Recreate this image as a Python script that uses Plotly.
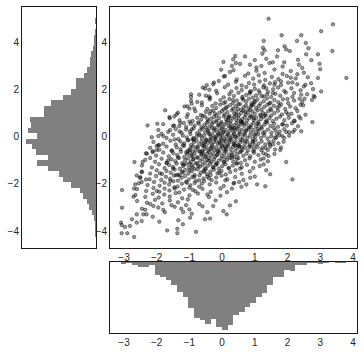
import plotly.graph_objects as go

# ---------------- data ----------------
scatter_points = [
    # core rows (estimated from the dense cloud)
    (0.55,3.08),(1.05,2.93),(1.45,3.12),(1.85,2.97),(2.35,3.05),
    (0.35,2.82),(0.8,2.68),(1.05,2.79),(1.3,2.7),(1.6,2.85),(1.85,2.66),(2.1,2.78),(2.5,2.71),
    (0.05,2.55),(0.45,2.42),(0.7,2.58),(0.95,2.46),(1.12,2.6),(1.32,2.4),(1.52,2.53),(1.72,2.44),(1.98,2.57),(2.25,2.47),(2.62,2.52),
    (-0.25,2.3),(0.18,2.2),(0.42,2.33),(0.6,2.17),(0.82,2.28),(0.98,2.21),(1.15,2.34),(1.28,2.18),(1.46,2.26),(1.62,2.31),(1.8,2.19),(2.02,2.29),(2.3,2.22),(2.72,2.27),
    (-0.52,2.04),(-0.18,1.95),(0.08,2.1),(0.28,1.92),(0.44,2.06),(0.6,1.98),(0.74,2.11),(0.88,1.93),(1.0,2.03),(1.12,1.96),(1.26,2.09),(1.4,1.91),(1.56,2.01),(1.71,2.08),(1.9,1.94),(2.12,2.05),(2.4,1.97),(2.78,2.02),
    (-0.7,1.78),(-0.4,1.7),(-0.15,1.84),(0.05,1.67),(0.22,1.8),(0.36,1.73),(0.5,1.86),(0.62,1.69),(0.74,1.77),(0.85,1.83),(0.94,1.66),(1.04,1.75),(1.15,1.85),(1.27,1.71),(1.38,1.79),(1.5,1.68),(1.63,1.82),(1.78,1.74),(1.95,1.87),(2.15,1.69),(2.42,1.78),(2.8,1.72),
    (-0.95,1.52),(-0.62,1.45),(-0.38,1.58),(-0.2,1.41),(-0.05,1.55),(0.1,1.47),(0.22,1.6),(0.34,1.43),(0.45,1.53),(0.55,1.39),(0.65,1.57),(0.74,1.48),(0.82,1.61),(0.9,1.42),(0.99,1.51),(1.08,1.58),(1.17,1.4),(1.27,1.5),(1.37,1.62),(1.48,1.44),(1.6,1.55),(1.72,1.46),(1.86,1.59),(2.02,1.42),(2.2,1.53),(2.45,1.48),(2.75,1.56),
    (-1.15,1.28),(-0.85,1.2),(-0.62,1.33),(-0.45,1.17),(-0.3,1.3),(-0.18,1.22),(-0.06,1.36),(0.05,1.16),(0.15,1.27),(0.25,1.34),(0.34,1.19),(0.42,1.29),(0.5,1.37),(0.58,1.14),(0.66,1.25),(0.73,1.32),(0.8,1.18),(0.88,1.28),(0.96,1.36),(1.04,1.21),(1.12,1.3),(1.2,1.15),(1.29,1.26),(1.38,1.35),(1.48,1.19),(1.58,1.31),(1.69,1.23),(1.8,1.37),(1.93,1.17),(2.08,1.28),(2.25,1.21),(2.48,1.33),
    (-1.35,1.02),(-1.05,0.95),(-0.82,1.08),(-0.65,0.92),(-0.5,1.05),(-0.38,0.97),(-0.27,1.11),(-0.17,0.9),(-0.08,1.01),(0.0,1.09),(0.08,0.94),(0.16,1.04),(0.23,0.88),(0.3,1.12),(0.37,0.98),(0.44,1.06),(0.51,0.91),(0.58,1.0),(0.65,1.1),(0.72,0.93),(0.79,1.03),(0.86,0.89),(0.93,1.07),(1.0,0.96),(1.08,1.11),(1.16,0.92),(1.24,1.02),(1.32,0.95),(1.41,1.08),(1.5,0.9),(1.6,1.0),(1.71,1.1),(1.83,0.94),(1.96,1.04),(2.12,0.97),(2.3,1.09),(2.55,0.93),
    (-1.6,0.78),(-1.3,0.7),(-1.08,0.83),(-0.9,0.67),(-0.76,0.8),(-0.64,0.72),(-0.53,0.86),(-0.43,0.65),(-0.34,0.76),(-0.25,0.84),(-0.17,0.69),(-0.09,0.79),(-0.02,0.62),(0.05,0.87),(0.12,0.73),(0.19,0.81),(0.26,0.66),(0.32,0.77),(0.38,0.85),(0.44,0.7),(0.5,0.79),(0.56,0.63),(0.62,0.74),(0.69,0.83),(0.76,0.68),(0.83,0.78),(0.9,0.86),(0.97,0.71),(1.04,0.8),(1.11,0.64),(1.19,0.75),(1.27,0.84),(1.36,0.69),(1.45,0.79),(1.55,0.66),(1.66,0.76),(1.77,0.85),(1.9,0.7),(2.04,0.8),(2.2,0.67),(2.4,0.77),
    (-1.8,0.53),(-1.5,0.45),(-1.28,0.58),(-1.1,0.42),(-0.96,0.55),(-0.84,0.47),(-0.73,0.61),(-0.63,0.4),(-0.54,0.51),(-0.46,0.59),(-0.38,0.44),(-0.31,0.54),(-0.24,0.37),(-0.17,0.62),(-0.1,0.48),(-0.04,0.56),(0.02,0.41),(0.08,0.52),(0.14,0.6),(0.2,0.45),(0.26,0.54),(0.32,0.38),(0.38,0.49),(0.44,0.58),(0.5,0.43),(0.56,0.53),(0.62,0.61),(0.68,0.46),(0.75,0.55),(0.82,0.39),(0.89,0.5),(0.96,0.59),(1.04,0.44),(1.12,0.54),(1.2,0.41),(1.29,0.51),(1.38,0.6),(1.48,0.45),(1.59,0.55),(1.71,0.42),(1.84,0.52),(1.98,0.47),(2.14,0.57),(2.32,0.44),
    (-1.95,0.28),(-1.65,0.2),(-1.42,0.33),(-1.24,0.17),(-1.1,0.3),(-0.98,0.22),(-0.87,0.36),(-0.77,0.15),(-0.68,0.26),(-0.6,0.34),(-0.52,0.19),(-0.45,0.29),(-0.38,0.12),(-0.31,0.37),(-0.25,0.23),(-0.19,0.31),(-0.13,0.16),(-0.07,0.27),(-0.01,0.35),(0.05,0.2),(0.11,0.29),(0.17,0.13),(0.23,0.24),(0.29,0.33),(0.35,0.18),(0.41,0.28),(0.47,0.36),(0.53,0.21),(0.6,0.3),(0.67,0.14),(0.74,0.25),(0.81,0.34),(0.88,0.19),(0.96,0.29),(1.04,0.16),(1.12,0.26),(1.21,0.35),(1.3,0.2),(1.4,0.3),(1.51,0.17),(1.63,0.27),(1.76,0.22),(1.9,0.32),(2.05,0.19),(2.22,0.29),(2.42,0.23),
    (-1.95,0.03),(-1.7,-0.05),(-1.5,0.08),(-1.34,-0.1),(-1.2,0.05),(-1.08,-0.03),(-0.97,0.11),(-0.87,-0.12),(-0.78,0.0),(-0.7,0.09),(-0.62,-0.07),(-0.55,0.04),(-0.48,-0.13),(-0.41,0.12),(-0.35,-0.02),(-0.29,0.06),(-0.23,-0.09),(-0.17,0.02),(-0.11,0.1),(-0.05,-0.05),(0.01,0.04),(0.07,-0.11),(0.13,0.01),(0.19,0.08),(0.25,-0.06),(0.31,0.03),(0.37,0.11),(0.43,-0.04),(0.49,0.05),(0.56,-0.12),(0.63,-0.01),(0.7,0.09),(0.77,-0.06),(0.85,0.04),(0.93,-0.1),(1.01,0.0),(1.1,0.1),(1.19,-0.05),(1.29,0.05),(1.39,-0.08),(1.5,0.02),(1.62,-0.03),(1.75,0.07),(1.9,-0.06),(2.05,0.04),(-2.15,-0.02),(-1.85,0.12),(1.68,0.12),(-0.02,-0.13),
    (-2.1,-0.22),(-1.8,-0.3),(-1.58,-0.17),(-1.42,-0.33),(-1.28,-0.2),(-1.16,-0.28),(-1.05,-0.14),(-0.95,-0.35),(-0.86,-0.24),(-0.78,-0.16),(-0.7,-0.31),(-0.63,-0.21),(-0.56,-0.38),(-0.49,-0.13),(-0.43,-0.27),(-0.37,-0.19),(-0.31,-0.34),(-0.25,-0.23),(-0.19,-0.15),(-0.13,-0.3),(-0.07,-0.21),(-0.01,-0.37),(0.05,-0.26),(0.11,-0.17),(0.17,-0.32),(0.23,-0.22),(0.29,-0.14),(0.35,-0.29),(0.41,-0.2),(0.48,-0.36),(0.55,-0.25),(0.62,-0.16),(0.69,-0.31),(0.77,-0.21),(0.85,-0.34),(0.93,-0.24),(1.02,-0.15),(1.11,-0.3),(1.21,-0.2),(1.32,-0.33),(1.44,-0.23),(1.57,-0.17),(1.72,-0.28),(1.88,-0.21),(-1.95,-0.36),(-0.9,-0.12),(0.4,-0.38),(1.0,-0.36),
    (-2.2,-0.47),(-1.92,-0.55),(-1.7,-0.42),(-1.53,-0.58),(-1.39,-0.45),(-1.27,-0.53),(-1.16,-0.39),(-1.06,-0.61),(-0.97,-0.49),(-0.89,-0.41),(-0.81,-0.56),(-0.74,-0.46),(-0.67,-0.62),(-0.6,-0.38),(-0.54,-0.52),(-0.48,-0.44),(-0.42,-0.59),(-0.36,-0.48),(-0.3,-0.4),(-0.24,-0.55),(-0.18,-0.45),(-0.12,-0.61),(-0.06,-0.5),(0.0,-0.42),(0.06,-0.57),(0.12,-0.47),(0.19,-0.39),(0.26,-0.54),(0.33,-0.44),(0.4,-0.6),(0.47,-0.49),(0.54,-0.41),(0.62,-0.56),(0.7,-0.46),(0.79,-0.58),(0.88,-0.43),(0.98,-0.53),(1.08,-0.45),(1.2,-0.57),(1.33,-0.48),(1.47,-0.41),(1.62,-0.54),(1.8,-0.46),(-2.0,-0.39),(-0.9,-0.63),(0.5,-0.37),
    (-2.3,-0.72),(-2.02,-0.8),(-1.8,-0.67),(-1.63,-0.83),(-1.49,-0.7),(-1.37,-0.78),(-1.26,-0.64),(-1.16,-0.86),(-1.07,-0.74),(-0.99,-0.66),(-0.91,-0.81),(-0.84,-0.71),(-0.77,-0.87),(-0.7,-0.63),(-0.64,-0.77),(-0.58,-0.69),(-0.52,-0.84),(-0.46,-0.73),(-0.4,-0.65),(-0.34,-0.8),(-0.28,-0.7),(-0.22,-0.86),(-0.15,-0.75),(-0.08,-0.67),(-0.01,-0.82),(0.06,-0.72),(0.13,-0.64),(0.21,-0.79),(0.29,-0.69),(0.37,-0.85),(0.46,-0.74),(0.55,-0.66),(0.65,-0.81),(0.75,-0.71),(0.86,-0.83),(0.98,-0.68),(1.11,-0.78),(1.26,-0.7),(1.42,-0.82),(1.6,-0.73),(-2.12,-0.62),(-0.6,-0.6),(0.3,-0.89),
    (-2.35,-0.98),(-2.05,-1.06),(-1.85,-0.93),(-1.69,-1.09),(-1.55,-0.96),(-1.43,-1.04),(-1.32,-0.9),(-1.22,-1.12),(-1.13,-1.0),(-1.04,-0.92),(-0.96,-1.07),(-0.88,-0.97),(-0.81,-1.13),(-0.74,-0.89),(-0.67,-1.03),(-0.6,-0.95),(-0.53,-1.1),(-0.46,-0.99),(-0.39,-0.91),(-0.32,-1.06),(-0.25,-0.96),(-0.18,-1.12),(-0.1,-1.01),(-0.02,-0.93),(0.06,-1.08),(0.15,-0.98),(0.24,-0.9),(0.34,-1.05),(0.45,-0.95),(0.57,-1.11),(0.7,-1.0),(0.84,-0.92),(1.0,-1.06),(1.18,-0.97),(1.4,-1.04),(-1.0,-1.14),(0.1,-0.88),(-2.2,-0.9),
    (-2.45,-1.22),(-2.15,-1.3),(-1.93,-1.17),(-1.76,-1.33),(-1.62,-1.2),(-1.5,-1.28),(-1.39,-1.14),(-1.29,-1.36),(-1.19,-1.24),(-1.1,-1.16),(-1.01,-1.31),(-0.92,-1.21),(-0.84,-1.37),(-0.76,-1.13),(-0.68,-1.27),(-0.6,-1.19),(-0.52,-1.34),(-0.44,-1.23),(-0.36,-1.15),(-0.28,-1.3),(-0.19,-1.2),(-0.1,-1.36),(0.0,-1.25),(0.1,-1.17),(0.21,-1.32),(0.33,-1.22),(0.46,-1.14),(0.6,-1.29),(0.76,-1.19),(0.95,-1.33),(1.15,-1.24),(-1.7,-1.12),(-0.5,-1.38),
    (-2.45,-1.48),(-2.2,-1.56),(-2.0,-1.42),(-1.84,-1.58),(-1.7,-1.45),(-1.57,-1.53),(-1.45,-1.39),(-1.34,-1.61),(-1.23,-1.49),(-1.13,-1.41),(-1.03,-1.56),(-0.93,-1.46),(-0.84,-1.62),(-0.75,-1.38),(-0.65,-1.52),(-0.56,-1.44),(-0.46,-1.59),(-0.36,-1.48),(-0.25,-1.4),(-0.14,-1.55),(-0.02,-1.45),(0.11,-1.6),(0.25,-1.5),(0.41,-1.42),(0.6,-1.57),(0.85,-1.47),(-1.4,-1.63),
    (-2.5,-1.72),(-2.22,-1.8),(-2.02,-1.67),(-1.86,-1.83),(-1.72,-1.7),(-1.59,-1.78),(-1.47,-1.64),(-1.35,-1.86),(-1.24,-1.74),(-1.13,-1.66),(-1.02,-1.81),(-0.91,-1.71),(-0.8,-1.87),(-0.69,-1.63),(-0.57,-1.77),(-0.45,-1.69),(-0.32,-1.84),(-0.18,-1.73),(-0.02,-1.65),(0.16,-1.8),(0.4,-1.71),(0.65,-1.83),
    (-2.55,-1.97),(-2.28,-2.05),(-2.08,-1.92),(-1.91,-2.08),(-1.76,-1.95),(-1.62,-2.03),(-1.49,-1.89),(-1.36,-2.11),(-1.23,-1.99),(-1.1,-1.91),(-0.97,-2.06),(-0.84,-1.96),(-0.7,-2.12),(-0.55,-1.88),(-0.38,-2.02),(-0.18,-1.94),(0.05,-2.09),(0.35,-1.98),
    (-2.6,-2.22),(-2.32,-2.3),(-2.1,-2.17),(-1.92,-2.33),(-1.76,-2.2),(-1.61,-2.28),(-1.46,-2.14),(-1.31,-2.36),(-1.16,-2.24),(-1.0,-2.16),(-0.82,-2.31),(-0.6,-2.21),(-0.35,-2.34),(-0.05,-2.19),
    (-2.65,-2.47),(-2.35,-2.55),(-2.12,-2.42),(-1.94,-2.58),(-1.77,-2.45),(-1.6,-2.53),(-1.42,-2.39),(-1.22,-2.61),(-1.0,-2.49),(-0.74,-2.41),(-0.4,-2.56),
    (-2.6,-2.72),(-2.3,-2.8),(-2.05,-2.67),(-1.83,-2.83),(-1.6,-2.7),(-1.35,-2.78),(-1.05,-2.66),(-0.7,-2.85),
    (-2.45,-3.05),(-2.1,-2.94),(-1.8,-3.1),(-1.45,-2.97),(-1.0,-3.08),
    # extra points thickening the dark centre of the cloud
    (0.62,1.62),(1.21,1.71),(0.33,1.55),(0.91,1.33),(1.44,1.41),(0.12,1.22),(0.71,1.05),(1.19,0.88),(-0.22,0.98),(0.43,0.93),(0.96,0.79),(-0.45,0.75),(0.18,0.69),(0.64,0.57),(1.33,0.62),(-0.71,0.55),(-0.12,0.47),(0.37,0.35),(0.87,0.41),(1.09,0.33),(-0.93,0.31),(-0.42,0.25),(0.03,0.19),(0.54,0.12),(0.98,0.08),(-0.66,0.06),(-0.2,-0.03),(0.22,-0.12),(0.71,-0.18),(-1.03,-0.15),(-0.52,-0.22),(-0.08,-0.27),(0.36,-0.33),(0.83,-0.41),(-1.2,-0.36),(-0.77,-0.44),(-0.33,-0.52),(0.11,-0.55),(0.58,-0.62),(-1.1,-0.67),(-0.62,-0.73),(-0.16,-0.79),(0.31,-0.77),(-1.35,-0.88),(-0.88,-0.94),(-0.41,-1.02),(0.05,-1.06),(0.44,-1.13),(-1.18,-1.18),(-0.73,-1.24),(-0.27,-1.29),(0.2,-1.34),(-1.5,-1.35),(-1.0,-1.42),(-0.55,-1.49),(-0.08,-1.52),(-1.3,-1.64),(-0.85,-1.7),(-0.4,-1.76),(-1.58,-1.88),(-1.08,-1.95),(-0.62,-1.99),
    (0.85,1.9),(1.55,1.85),(0.05,1.42),(1.0,1.47),(0.48,1.18),(1.5,1.12),(-0.35,1.08),(0.86,1.14),(0.2,0.84),(1.33,0.9),(-0.6,0.88),(0.58,0.66),(-0.28,0.61),(1.08,0.55),(-1.0,0.64),(0.25,0.4),(-0.5,0.39),(0.72,0.27),(1.58,0.38),(-1.3,0.22),(-0.05,0.1),(0.4,0.0),(1.25,0.15),(-0.88,-0.05),(-0.35,-0.11),(0.95,-0.2),(-1.45,-0.12),(0.1,-0.42),(-0.55,-0.3),(0.6,-0.45),(-1.0,-0.55),(-0.15,-0.62),(0.95,-0.62),(-1.55,-0.6),(-0.5,-0.85),(0.5,-0.9),(-0.95,-0.8),(-1.65,-1.0),(-0.15,-1.15),(-0.9,-1.3),(0.55,-1.35),(-1.9,-1.55),(-0.35,-1.62),(-1.2,-1.52),(-0.7,-1.85),(0.1,-1.85),(-1.45,-2.2),(-0.9,-2.25),(-2.0,-2.3),(-0.45,-2.45),
    (1.6,2.2),(2.1,2.5),(1.35,2.05),(1.8,2.35),(2.3,2.65),(1.9,3.15),(2.15,2.3),(2.55,2.2),(2.2,1.85),(1.75,1.3),(2.4,1.35),(2.0,1.6),
    # outer points read individually
    (0.34,3.28),(0.04,3.17),(-0.03,2.84),(0.09,2.57),(0.24,2.74),(-0.10,2.36),(-0.27,2.22),(-0.47,2.18),(-0.59,2.08),(-0.39,1.99),(-0.95,1.80),(-0.95,1.68),(-0.5,1.74),(-0.37,1.65),(-0.76,1.47),(-0.93,1.40),(-1.06,1.29),(-1.0,1.19),(-1.74,1.12),(-1.61,0.83),(-1.46,0.86),(-1.39,0.95),(-2.28,0.48),(-1.98,0.55),(-1.47,0.48),(-1.31,0.44),(-1.17,0.58),
    (1.42,5.0),(3.39,4.76),(3.03,4.47),(2.42,4.30),(1.82,4.30),(1.27,4.06),(2.29,4.06),(2.56,3.97),(1.91,3.83),(1.96,3.70),(1.25,3.77),(1.30,3.66),(1.23,3.52),(1.71,3.66),(2.07,3.63),(2.64,3.75),(3.37,3.63),(2.93,3.49),(2.57,3.49),(2.32,3.26),(2.73,3.24),(2.98,3.09),(3.0,2.86),(2.45,2.91),(3.80,2.49),(2.93,2.49),(3.03,1.92),(2.83,1.68),(2.76,0.62),(2.50,2.13),(2.37,1.61),(2.52,1.61),(2.60,1.80),(2.22,0.67),(2.35,0.86),(2.02,0.95),(1.86,0.53),
    (0.3,3.0),(0.42,3.12),(0.7,3.4),(0.4,3.42),(0.85,3.05),(1.0,3.25),(1.2,3.0),(1.35,3.3),(1.55,3.15),(1.68,3.4),
    (-3.06,-2.26),(-3.06,-3.01),(-3.09,-3.64),(-3.07,-3.74),(-2.97,-3.83),(-2.82,-3.78),(-3.07,-4.09),(-2.90,-4.09),(-2.69,-4.25),(-2.76,-3.50),(-2.61,-3.64),(-2.46,-3.57),(-2.61,-3.29),(-2.41,-3.29),(-2.31,-3.29),(-2.12,-3.39),(-1.92,-3.60),(-1.68,-3.97),(-1.37,-4.09),(-1.37,-3.90),(-1.20,-3.71),(-1.34,-3.54),(-0.80,-4.03),(-2.71,-2.54),(-2.69,-2.20),(-2.66,-2.02),(-2.46,-1.92),(-2.51,-1.74),(-2.61,-1.64),(-2.46,-1.50),(-2.33,-1.81),(-2.68,-1.07),(-2.43,-1.07),(-2.33,-0.70),(-2.12,-0.65),(-2.0,-0.56),(-1.92,-0.36),(-1.80,0.03),(-1.59,0.28),(-0.27,-2.94),(0.04,-3.15),(0.14,-3.29),(0.24,-2.91),(-0.37,-3.47),(-0.52,-3.50),(-0.98,-3.43),(-0.93,-3.26),(-1.19,-3.19),
    (0.42,-2.74),(0.59,-2.12),(0.74,-2.02),(1.07,-2.02),(1.32,-2.10),(0.86,-1.74),(1.0,-1.69),(0.52,-1.92),(0.37,-1.95),(2.15,-1.81),(1.47,-1.59),(1.35,-1.42),(1.96,-1.07),(1.78,-0.56),(1.27,-1.17),(1.27,-0.92),(1.40,-0.56),(1.35,-0.75),(1.23,-0.47),(1.46,-0.32),(1.56,-0.32),(2.17,0.20),(1.96,0.20),(1.84,0.03),(1.66,-0.04),
    (-2.2,-2.85),(-1.95,-3.0),(-1.75,-3.2),(-1.55,-2.9),(-1.25,-3.05),(-2.35,-3.1),(-1.1,-2.9),(-0.6,-2.95),(-0.45,-3.2),(-0.2,-2.7),(-0.05,-2.5),(0.15,-2.35),(0.3,-2.2),
]
scatter_x = [p[0] for p in scatter_points]
scatter_y = [p[1] for p in scatter_points]

# x-histogram (bottom panel): 40 bins starting at x = -3.10
xhist_start = -3.10
xhist_binwidth = 0.1722
xhist_counts = [3, 1, 7, 10, 10, 7, 27, 32, 38, 48, 62, 74, 97, 118, 121, 130, 119, 137, 142, 132,
                112, 104, 95, 85, 74, 64, 48, 31, 31, 16, 18, 7, 7, 1, 1, 3, 1, 0, 1, 1]

# y-histogram (left panel): 40 bins listed from the top edge y = 5.02 downward
yhist_top = 5.02
yhist_binwidth = 0.2317
yhist_counts = [1, 0, 1, 3, 3, 5, 10, 12, 12, 17, 23, 38, 38, 48, 63, 85, 100, 100, 125, 123,
                130, 112, 133, 122, 115, 91, 113, 91, 71, 63, 48, 31, 25, 18, 14, 8, 4, 1, 1, 1]

x_ticks = [-3, -2, -1, 0, 1, 2, 3, 4]
y_ticks = [-4, -2, 0, 2, 4]

# ---------------- figure ----------------
W, H = 364, 353
xhist_centers = [xhist_start + xhist_binwidth * (i + 0.5) for i in range(len(xhist_counts))]
yhist_centers = [yhist_top - yhist_binwidth * (i + 0.5) for i in range(len(yhist_counts))]

def minus(v):
    return str(v).replace("-", "\u2212")

fig = go.Figure()
fig.add_trace(go.Scatter(
    x=scatter_x, y=scatter_y, mode="markers",
    marker=dict(size=3.5, color="rgba(0,0,0,0.4)",
                line=dict(width=1, color="rgba(0,0,0,0.4)")),
    xaxis="x", yaxis="y", hoverinfo="skip", showlegend=False))
fig.add_trace(go.Bar(
    x=xhist_centers, y=xhist_counts, width=xhist_binwidth,
    marker=dict(color="#808080", line=dict(width=0)),
    xaxis="x2", yaxis="y2", showlegend=False))
fig.add_trace(go.Bar(
    y=yhist_centers, x=yhist_counts, width=yhist_binwidth, orientation="h",
    marker=dict(color="#808080", line=dict(width=0)),
    xaxis="x3", yaxis="y3", showlegend=False))

xr = [-3.428, 4.125]
yr = [-4.716, 5.496]
font = dict(family="Liberation Sans, Arial, sans-serif", size=10, color="#262626")
common = dict(showgrid=False, zeroline=False, showline=True, linecolor="#1a1a1a",
              linewidth=1, mirror=True, ticks="", tickfont=font)

main_x = [110 / W, 357 / W]
main_y = [(H - 248) / H, (H - 7) / H]

fig.update_layout(
    width=W, height=H, margin=dict(l=0, r=0, t=0, b=0),
    paper_bgcolor="white", plot_bgcolor="white", bargap=0,
    xaxis=dict(domain=main_x, range=xr, anchor="y", tickvals=x_ticks,
               ticktext=[minus(v) for v in x_ticks], **common),
    yaxis=dict(domain=main_y, range=yr, anchor="x", tickvals=y_ticks,
               ticktext=[minus(v) for v in y_ticks], **common),
    xaxis2=dict(domain=main_x, range=xr, anchor="y2", tickvals=x_ticks,
                ticktext=[minus(v) for v in x_ticks], **common),
    yaxis2=dict(domain=[(H - 333) / H, (H - 262) / H], range=[149, 0], anchor="x2",
                showticklabels=False, **common),
    xaxis3=dict(domain=[22 / W, 96 / W], range=[141, 0], anchor="y3",
                showticklabels=False, **common),
    yaxis3=dict(domain=main_y, range=yr, anchor="x3", tickvals=y_ticks,
                ticktext=[minus(v) for v in y_ticks], **common),
)

fig.write_html("out.html")
